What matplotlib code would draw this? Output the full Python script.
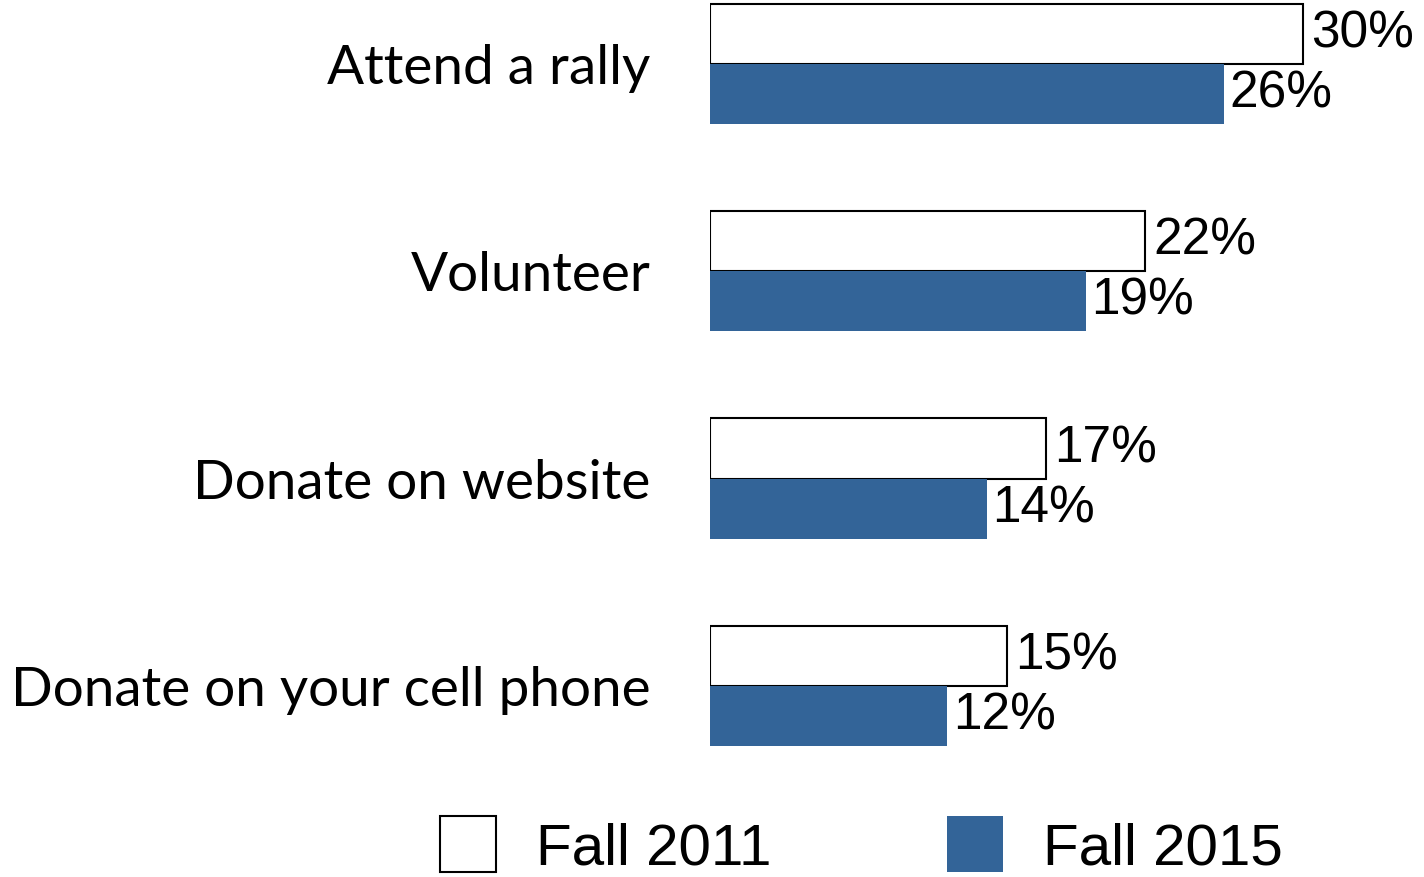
import matplotlib
matplotlib.use("Agg")
import matplotlib.pyplot as plt
from matplotlib.patches import Patch
import numpy as np

categories = ["Attend a rally", "Volunteer", "Donate on website", "Donate on your cell phone"]
fall_2011 = [30, 22, 17, 15]
fall_2015 = [26, 19, 14, 12]
series_names = ["Fall 2011", "Fall 2015"]

BLUE = "#336498"
LABEL_FONT = ["Lato", "DejaVu Sans"]
NUM_FONT = ["Liberation Sans Narrow", "Liberation Sans", "DejaVu Sans"]

W, H = 1424, 877
fig = plt.figure(figsize=(W / 100, H / 100), dpi=100)

# axes spans full height; x starts where bars start
x0 = 710 / W
px_per_unit = 593 / 30
xmax = 36
ax = fig.add_axes([x0, 0, xmax * px_per_unit / W, 1])

spacing = 207.3
top_center = 64
ax.set_ylim((H - top_center) / spacing, -top_center / spacing)
ax.set_xlim(0, xmax)

y = np.arange(len(categories))
bh = 0.29
ax.barh(y - bh / 2, fall_2011, height=bh, color="white", edgecolor="black", linewidth=1.5)
ax.barh(y + bh / 2, fall_2015, height=bh, color=BLUE, edgecolor="none")

for yi, v in zip(y, fall_2011):
    ax.annotate(f"{v}%", (v, yi - bh / 2), xytext=(6, 0), textcoords="offset points",
                va="center", ha="left", fontsize=37, family=NUM_FONT)
for yi, v in zip(y, fall_2015):
    ax.annotate(f"{v}%", (v, yi + bh / 2), xytext=(4, 0), textcoords="offset points",
                va="center", ha="left", fontsize=37, family=NUM_FONT)

ax.set_yticks(y)
ax.set_yticklabels(categories, fontsize=39.5, family=LABEL_FONT)
ax.tick_params(axis="y", length=0, pad=43)
ax.set_xticks([])
for s in ax.spines.values():
    s.set_visible(False)

handles = [Patch(facecolor="white", edgecolor="black", linewidth=1.5),
           Patch(facecolor=BLUE, edgecolor="none")]
fig.legend(handles, series_names, loc="center", bbox_to_anchor=(0.605, 0.035),
           ncol=2, frameon=False, prop={"family": NUM_FONT, "size": 42},
           handlelength=0.96, handleheight=1.1, handletextpad=0.69,
           columnspacing=3.0, borderpad=0)

fig.savefig("out.png", dpi=100)
